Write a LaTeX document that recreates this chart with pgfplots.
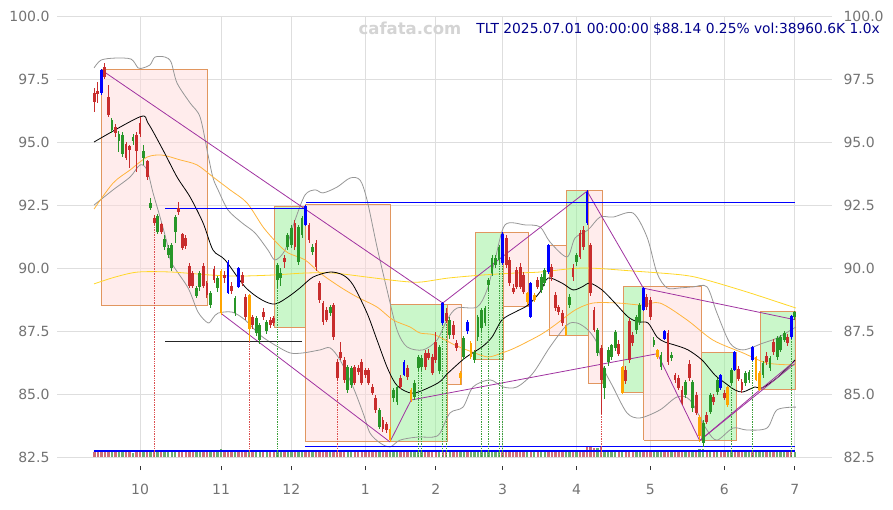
\documentclass[border=0pt]{standalone}
\usepackage{pgfplots}
\pgfplotsset{compat=1.18}
\usepackage{pgfplotstable}
\usepackage{fontspec}
\setmainfont{DejaVu Sans}
\definecolor{cgreen}{RGB}{40,150,40}
\definecolor{cred}{RGB}{200,45,45}
\definecolor{cblue}{RGB}{0,0,255}
\definecolor{corange}{RGB}{255,165,0}
\definecolor{tickgray}{RGB}{115,115,115}
\definecolor{gridgray}{RGB}{222,222,222}
\definecolor{boxedge}{RGB}{225,150,95}
\definecolor{redfill}{RGB}{255,218,218}
\definecolor{greenfill}{RGB}{150,240,150}
\definecolor{bandgray}{RGB}{150,150,150}
\definecolor{maorange}{RGB}{255,180,60}
\definecolor{mayellow}{RGB}{255,215,40}
\definecolor{trend}{RGB}{160,50,160}
\definecolor{titleblue}{RGB}{0,0,139}
\definecolor{wm}{RGB}{212,212,212}
\definecolor{volred}{RGB}{205,110,120}
\definecolor{volgreen}{RGB}{110,170,110}
\definecolor{dotred}{RGB}{220,80,80}
\definecolor{dotgreen}{RGB}{60,160,60}

% candles: x open high low close volume-top
\pgfplotstableread{
x o h l c v
-8 95.48 95.95 95.35 95.87 82.70
-6 95.04 95.45 94.60 95.32 82.68
-5 94.52 95.40 94.40 95.28 82.70
-2 95.04 95.30 94.90 95.20 82.67
1 94.37 94.90 94.10 94.64 82.70
3 92.38 92.78 92.30 92.58 82.72
5 91.43 92.15 91.35 92.06 82.70
7 90.83 91.30 90.70 91.15 82.69
8 90.52 90.90 90.40 90.79 82.70
9 90.00 91.00 89.90 90.90 82.71
10 91.43 92.10 91.00 92.02 82.70
16 88.90 89.30 88.80 89.20 82.68
17 89.25 89.90 89.10 89.80 82.70
20 88.55 89.10 88.40 89.00 82.70
22 89.20 89.70 89.05 89.60 82.72
27 88.20 88.90 88.10 88.80 82.74
33 87.42 88.10 87.30 88.02 82.78
34 87.14 87.80 87.00 87.74 82.72
36 87.50 87.95 87.40 87.85 82.70
39 89.52 90.20 89.20 90.12 82.70
40 89.60 90.00 89.30 89.80 82.69
42 90.83 91.40 90.70 91.31 82.70
43 90.91 91.70 90.80 91.59 82.70
45 90.24 91.70 90.10 91.63 82.71
46 91.31 92.05 91.20 91.98 82.70
49 90.63 90.95 90.50 90.83 82.68
54 88.21 88.55 88.10 88.45 82.70
59 85.16 86.15 85.05 86.07 82.70
60 85.36 86.10 85.25 86.03 82.69
68 83.69 84.45 83.60 84.37 82.72
72 84.84 85.25 84.70 85.16 82.70
73 84.68 85.35 84.55 85.28 82.70
78 84.88 85.55 84.75 85.44 82.69
79 86.03 86.55 85.90 86.47 82.70
80 86.07 86.55 85.95 86.43 82.70
85 85.90 86.95 85.80 86.87 82.71
88 87.34 88.05 87.20 87.94 82.70
92 86.47 87.30 86.35 87.22 82.70
95 86.35 86.75 86.25 86.67 82.68
96 87.26 88.15 87.10 88.06 82.70
97 87.62 88.40 87.50 88.33 82.70
98 87.82 88.50 87.70 88.41 82.70
99 89.33 89.60 89.10 89.52 82.72
100 89.80 90.50 89.70 90.40 82.70
101 90.12 90.50 90.00 90.40 82.69
102 90.32 90.90 90.20 90.83 82.70
114 89.13 89.75 89.00 89.64 82.70
115 89.40 90.00 89.30 89.92 82.70
122 88.53 88.95 88.40 88.85 82.70
124 90.24 90.60 90.10 90.52 82.71
130 86.63 87.60 86.50 87.54 82.86
132 85.24 86.10 84.80 86.03 82.78
133 86.27 86.85 86.10 86.75 82.72
134 86.47 87.00 86.35 86.94 82.70
135 86.83 87.55 86.70 87.45 82.70
141 87.54 88.15 87.40 88.06 82.70
142 87.86 88.60 87.75 88.53 82.70
146 86.95 87.25 86.85 87.14 82.69
148 86.07 86.65 85.95 86.55 82.70
151 86.43 86.65 86.30 86.55 82.70
155 84.96 85.55 84.85 85.48 82.70
157 84.44 85.55 84.30 85.48 82.71
160 83.06 83.95 82.90 83.85 82.80
162 84.29 85.05 84.20 84.96 82.72
164 85.08 85.65 84.95 85.56 82.70
168 85.44 86.05 85.35 85.95 82.70
172 85.44 85.90 85.30 85.83 82.70
173 85.56 85.95 85.45 85.87 82.69
177 85.75 86.30 85.65 86.23 82.70
179 86.03 86.50 85.90 86.43 82.70
181 86.47 87.30 86.35 87.22 82.70
182 86.75 87.35 86.65 87.26 82.71
183 87.14 87.50 87.05 87.42 82.70
186 88.06 88.30 87.95 88.25 82.70
}\upc

\pgfplotstableread{
x o h l c v
-13 96.94 97.14 96.19 96.59 82.70
-12 97.02 97.40 96.55 96.90 82.70
-10 97.98 98.13 97.50 97.58 82.72
-9 96.79 97.26 96.00 96.07 82.71
-7 95.60 95.70 95.20 95.36 82.70
-4 94.92 95.00 94.30 94.37 82.70
-3 94.85 94.90 93.95 94.70 82.69
-1 95.28 95.40 93.80 94.64 82.70
0 95.75 95.99 95.20 95.32 82.70
2 94.25 94.30 93.50 93.61 82.71
4 92.00 92.10 91.70 91.80 82.72
6 91.75 91.80 91.35 91.43 82.70
11 92.38 92.62 92.10 92.22 82.70
12 91.35 91.40 90.70 90.80 82.70
13 91.20 91.30 90.75 90.87 82.69
14 90.10 90.20 89.20 89.30 82.70
15 89.80 89.90 89.20 89.30 82.70
18 90.10 90.20 89.20 89.30 82.70
19 89.40 89.50 88.80 88.93 82.71
21 89.96 90.10 89.40 89.52 82.70
24 89.72 89.90 89.40 89.60 82.72
26 89.30 89.45 88.95 89.10 82.78
29 89.72 89.85 89.30 89.40 82.76
30 88.85 88.95 87.95 88.06 82.72
32 88.05 88.15 87.60 87.74 82.70
35 88.25 88.40 87.95 88.06 82.70
37 87.94 88.05 87.60 87.74 82.70
38 88.00 88.10 87.70 87.80 82.69
41 90.40 90.50 90.00 90.24 82.70
44 91.79 91.90 90.70 90.83 82.70
48 91.71 91.80 91.00 91.11 82.70
50 90.99 91.10 89.90 90.04 82.71
51 89.40 89.50 88.60 88.73 82.70
52 88.61 88.70 87.75 87.86 82.70
53 88.33 88.45 87.85 87.94 82.70
55 88.53 88.60 87.15 87.26 82.72
56 86.27 86.40 85.50 85.63 82.74
57 86.67 87.06 86.35 86.43 82.70
58 86.35 86.45 85.45 85.56 82.70
61 86.07 86.15 85.35 85.44 82.70
62 86.03 86.15 85.75 85.87 82.69
63 86.27 86.40 85.35 85.44 82.70
64 85.95 86.05 85.65 85.75 82.70
65 85.95 86.05 85.35 85.44 82.70
66 85.28 85.40 84.95 85.04 82.71
67 84.84 84.95 84.25 84.37 82.70
69 83.97 84.10 83.50 83.61 82.70
70 83.80 83.90 83.45 83.57 82.70
74 85.63 85.75 85.20 85.28 82.70
76 86.03 86.15 85.55 85.67 82.70
81 86.63 86.75 85.95 86.07 82.70
82 86.63 86.80 86.35 86.43 82.69
83 86.47 86.60 85.75 85.83 82.70
84 87.06 87.45 86.25 86.35 82.70
87 88.20 88.40 87.80 87.90 82.71
89 87.74 87.90 87.20 87.34 82.70
90 87.02 87.15 86.70 86.83 82.70
104 91.19 91.30 90.00 90.12 82.70
105 90.32 90.45 89.30 89.40 82.70
106 89.21 89.35 88.95 89.05 82.69
107 89.92 90.05 89.15 89.25 82.70
108 90.04 90.20 89.15 89.25 82.70
109 89.72 89.85 88.95 89.05 82.70
113 89.52 89.65 89.15 89.25 82.70
117 90.04 90.15 89.50 89.64 82.70
118 88.93 89.05 88.30 88.41 82.71
119 88.45 88.55 88.15 88.25 82.70
120 88.21 88.35 87.70 87.82 82.70
123 90.00 90.15 89.50 89.64 82.70
125 91.39 91.50 90.35 90.44 82.72
126 91.51 91.65 90.70 90.83 82.74
128 90.91 91.00 88.90 89.01 82.90
129 88.33 88.45 87.45 87.54 82.84
131 86.83 86.95 84.20 85.56 82.88
136 87.00 87.15 86.50 86.60 82.70
138 85.95 86.10 85.40 85.52 82.70
139 87.90 88.00 86.25 86.35 82.72
140 87.34 87.45 86.90 87.02 82.70
144 88.85 88.95 88.35 88.45 82.70
145 88.73 88.85 87.95 88.06 82.70
150 87.42 87.55 86.15 86.27 82.71
152 85.75 85.85 85.45 85.56 82.70
153 85.63 85.75 85.15 85.24 82.70
154 85.16 85.30 84.55 84.64 82.70
156 86.20 86.35 85.50 85.63 82.70
158 84.96 85.10 84.15 84.25 82.72
161 84.17 84.30 83.80 83.89 82.72
163 84.88 85.00 84.55 84.68 82.70
166 85.04 85.15 84.75 84.84 82.70
170 86.00 86.10 85.50 85.60 82.70
171 85.48 85.60 85.05 85.16 82.70
178 86.51 86.65 86.15 86.27 82.70
180 87.06 87.20 86.55 86.67 82.70
184 87.26 87.40 86.90 87.02 82.70
}\downc

\pgfplotstableread{
x o h l c v
-11 96.94 97.90 96.85 97.86 82.72
25 89.00 90.30 88.95 90.24 82.74
28 89.25 90.05 89.20 90.00 82.74
47 91.71 92.50 91.65 92.46 82.71
75 85.75 86.35 85.70 86.27 82.70
86 87.82 88.65 87.75 88.61 82.72
93 87.50 87.95 87.40 87.86 82.70
103 90.20 91.42 90.10 91.35 82.72
111 88.06 89.45 88.00 89.40 82.71
116 89.84 90.95 89.75 90.91 82.70
127 91.80 93.10 91.70 93.00 82.92
143 88.35 89.25 88.30 89.20 82.70
149 87.20 87.55 87.15 87.50 82.70
165 85.24 85.80 85.15 85.75 82.70
169 85.95 86.70 85.90 86.67 82.70
174 86.35 86.90 86.30 86.85 82.70
185 87.26 88.15 87.20 88.10 82.71
}\bluec

\pgfplotstableread{
x o h l c v
23 89.90 89.95 88.15 88.20 82.80
31 88.93 88.95 87.10 87.60 82.78
71 83.61 83.70 83.10 83.17 82.74
77 85.16 85.25 84.70 84.76 82.70
91 85.83 85.90 85.36 85.63 82.70
94 87.02 87.10 86.40 86.47 82.70
110 89.00 89.05 88.55 88.65 82.70
112 88.93 89.00 88.65 88.73 82.70
121 87.66 87.75 87.30 87.34 82.71
137 86.07 86.10 85.00 85.04 82.72
147 86.75 86.80 86.40 86.47 82.70
159 84.10 84.15 83.10 83.33 82.80
167 85.28 85.30 84.50 84.56 82.70
175 86.47 86.50 85.50 85.56 82.70
176 85.83 85.90 85.10 85.16 82.70
}\orangec

% moving averages and bands
\pgfplotstableread{
x y
-13.07 95.00
0 96.00
2.27 95.75
6.53 94.68
10.51 93.61
14.2 92.82
17.9 91.79
20.74 90.71
24.15 90.32
29.83 89.25
34.66 88.73
38.35 88.57
42.05 88.85
45.45 89.21
49.15 89.64
53.98 89.84
57.67 89.72
60.51 89.33
64.49 88.21
67.33 87.14
70.17 86.07
72.44 85.44
74.72 85.16
78.13 85.04
84.66 85.44
87.5 85.83
92.33 86.43
97.16 86.87
100 87.26
102.84 87.94
106.53 88.25
110.23 88.53
113.64 89.05
115.91 89.60
119.89 89.40
123.01 89.13
125.57 89.25
127.84 89.40
131.25 89.13
134.94 88.61
138.64 88.06
141.48 87.86
144.32 87.82
146.88 87.26
149.15 87.06
151.99 86.94
155.68 86.75
159.66 86.35
163.35 85.75
166.19 85.44
169.03 85.16
171.31 85.08
174.72 85.28
176.70 85.24
181.25 85.67
186.08 86.35
}\maA

\pgfplotstableread{
x y
-13.07 92.34
-7.67 93.37
-2.84 93.89
1.99 94.40
6.25 94.48
11.36 94.29
16.19 94.09
20.74 93.61
25.57 93.10
30.40 92.58
34.94 91.63
38.92 90.99
42.05 90.60
46.88 90.32
51.14 89.80
56.82 89.25
61.65 88.85
67.33 88.45
71.88 87.94
76.70 87.66
79.55 87.42
83.81 87.34
89.49 86.94
94.32 86.67
98.86 86.47
102.84 86.63
106.53 86.83
113.64 87.34
117.9 87.74
123.58 88.33
128.69 88.61
135.80 88.61
142.61 88.53
147.73 88.61
155.40 87.94
162.78 87.14
171.31 86.63
178.13 86.23
186.36 86.15
}\maB

\pgfplotstableread{
x y
-13.07 89.37
-7.10 89.64
-0.57 89.84
8.81 89.84
20.17 89.72
27.84 89.68
37.5 89.72
46.88 89.80
54.83 89.80
64.49 89.64
73.86 89.48
79.55 89.44
87.5 89.60
97.16 89.72
106.53 89.80
113.64 89.84
125.85 90.00
140.06 89.88
154.26 89.72
161.08 89.52
173.30 89.01
186.36 88.41
}\maC

\pgfplotstableread{
x y
-13.07 97.94
-11.08 98.25
-7.10 98.33
-2.56 98.29
-0.57 97.94
0.85 97.94
2.84 98.06
4.26 98.37
7.10 98.37
8.81 98.17
10.51 97.34
14.2 96.55
17.05 95.99
19.32 94.48
20.74 93.57
22.16 93.10
25.0 92.30
28.98 91.79
32.67 91.39
36.36 90.71
38.35 90.32
41.19 90.71
44.03 91.90
46.88 92.90
49.72 93.10
51.99 92.98
55.97 93.21
59.66 93.57
62.5 93.49
64.49 92.70
67.33 90.83
70.17 89.13
73.01 87.54
75.85 86.87
80.40 86.75
84.38 87.14
87.22 87.94
90.06 88.41
95.74 88.45
98.58 89.13
100.85 90.32
103.69 91.71
109.38 91.71
113.64 91.63
116.48 91.03
121.31 90.44
123.58 91.19
127.27 91.51
130.68 92.02
134.38 92.02
140.06 92.18
144.03 91.23
146.88 89.80
149.72 89.21
153.41 89.21
157.1 89.25
161.08 89.25
163.92 88.21
167.61 87.02
171.31 86.75
176.99 87.02
180.97 87.22
186.36 87.66
}\bbU

\pgfplotstableread{
x y
-13.07 92.50
-7.67 93.10
-2.84 93.61
0 94.09
1.99 93.89
3.69 92.98
5.68 92.02
7.67 90.99
8.81 90.24
13.64 89.21
16.48 88.25
19.32 87.82
20.74 88.02
22.16 88.21
26.14 88.25
29.83 87.94
34.09 87.34
38.35 86.94
42.61 86.63
46.31 86.63
51.14 86.75
53.98 86.83
56.82 86.35
60.51 85.28
63.35 84.25
65.34 83.45
68.18 83.06
71.02 82.90
73.86 83.17
78.69 83.29
83.24 83.29
85.23 83.45
88.07 84.25
91.76 84.48
94.60 85.28
99.43 85.56
103.13 85.28
107.1 85.28
111.65 85.83
116.48 86.87
121.31 87.74
124.15 87.82
127.27 87.54
129.83 87.02
131.53 86.07
134.38 85.28
138.35 84.25
142.05 84.05
147.73 84.37
152.56 84.88
156.25 84.76
161.08 83.57
163.92 83.17
168.47 83.65
172.44 83.57
178.13 83.65
180.97 84.37
186.36 84.48
}\bbL

\newcommand{\candles}[2]{%
  \addplot[draw=none, mark=none, forget plot,
    error bars/.cd, y dir=both, y explicit, error mark=none,
    error bar style={draw=#2, line width=0.9pt, solid}]
    table[x=x, y expr=(\thisrow{h}+\thisrow{l})/2, y error expr=(\thisrow{h}-\thisrow{l})/2] {#1};
  \addplot[draw=none, mark=none, forget plot,
    error bars/.cd, y dir=both, y explicit, error mark=none,
    error bar style={draw=#2, line width=2.8pt, solid}]
    table[x=x, y expr=(\thisrow{o}+\thisrow{c})/2, y error expr=abs(\thisrow{o}-\thisrow{c})/2] {#1};
}
\newcommand{\rbox}[5]{%
  \addplot[fill=#5, fill opacity=0.5, draw=boxedge, line width=1pt, forget plot]
    coordinates {(#1,#3) (#2,#3) (#2,#4) (#1,#4) (#1,#3)};
}

\begin{document}
\begin{tikzpicture}
\useasboundingbox (0,0) rectangle (893pt,509pt);
\begin{axis}[
  at={(57pt,52pt)}, anchor=south west,
  width=775pt, height=441pt, scale only axis,
  xmin=-23.6, xmax=196.6, ymin=82.5, ymax=100,
  axis line style={draw=none},
  grid=major, major grid style={draw=gridgray, line width=0.8pt},
  xtick={0,23,43,64,84,103,124,145,166,186},
  xticklabels={10,11,12,1,2,3,4,5,6,7},
  ytick={82.5,85,87.5,90,92.5,95,97.5,100},
  xtick pos=lower, ytick pos=left,
  tick align=outside, major tick length=4pt,
  xtick style={draw=black!80, line width=0.8pt, yshift=-9pt},
  ytick style={draw=none},
  ticklabel style={font=\fontsize{14}{16}\selectfont, text=tickgray},
  xticklabel style={yshift=-20pt},
  /pgf/number format/assume math mode=true,
  yticklabel style={/pgf/number format/.cd, fixed, fixed zerofill, precision=1},
]
% volume
\addplot[ycomb, draw=volred, line width=2.4pt, forget plot] table[x=x, y=v] {\downc};
\addplot[ycomb, draw=volgreen, line width=2.4pt, forget plot] table[x=x, y=v] {\upc};
\addplot[ycomb, draw=volred, line width=2.4pt, forget plot] table[x=x, y=v] {\bluec};
\addplot[ycomb, draw=volgreen, line width=2.4pt, forget plot] table[x=x, y=v] {\orangec};
% boxes
\rbox{-11.08}{19.03}{88.53}{97.86}{redfill}
\rbox{38.07}{46.88}{87.62}{92.46}{greenfill}
\rbox{46.88}{71.02}{83.13}{92.50}{redfill}
\rbox{71.02}{87.22}{83.13}{88.57}{greenfill}
\rbox{87.22}{91.19}{85.36}{88.57}{redfill}
\rbox{95.17}{103.13}{86.35}{91.39}{greenfill}
\rbox{103.13}{110.23}{88.49}{91.39}{redfill}
\rbox{116.19}{121.02}{87.34}{90.91}{redfill}
\rbox{121.02}{127.27}{87.34}{93.06}{greenfill}
\rbox{127.27}{131.25}{85.40}{93.06}{redfill}
\rbox{137.22}{143.18}{85.04}{89.25}{greenfill}
\rbox{143.18}{159.38}{83.17}{89.25}{redfill}
\rbox{159.38}{169.60}{83.17}{86.63}{greenfill}
\rbox{176.14}{186.36}{85.16}{88.29}{greenfill}
% bands and averages
\addplot[draw=bandgray, line width=0.8pt, smooth, forget plot] table {\bbU};
\addplot[draw=bandgray, line width=0.8pt, smooth, forget plot] table {\bbL};
\addplot[draw=mayellow, line width=0.8pt, smooth, forget plot] table {\maC};
\addplot[draw=maorange, line width=0.8pt, smooth, forget plot] table {\maB};
\addplot[draw=black, line width=0.8pt, smooth, forget plot] table {\maA};
% trend lines
\addplot[draw=trend, line width=0.8pt, forget plot] coordinates {(-11,97.86) (86,88.61) (127,93.05) (143,89.2) (186,87.95)};
\addplot[draw=trend, line width=0.8pt, forget plot] coordinates {(23,88.2) (71,83.1) (77,84.76) (147,86.6) (159,83.15) (176,85.15) (186,86.3)};
\addplot[draw=trend, line width=0.8pt, forget plot] coordinates {(159,83.15) (186,86.2)};
% horizontal levels
\addplot[draw=cblue, line width=0.8pt, forget plot] coordinates {(7.1,92.38) (47.2,92.38)};
\addplot[draw=cblue, line width=0.8pt, forget plot] coordinates {(47.2,92.6) (186.1,92.6)};
\addplot[draw=black!85, line width=0.7pt, forget plot] coordinates {(7.1,87.1) (46.0,87.1)};
\addplot[draw=cblue, line width=0.8pt, forget plot] coordinates {(47.0,82.93) (186.1,82.93)};
\addplot[draw=cblue, line width=0.8pt, forget plot] coordinates {(-13.2,82.78) (186.1,82.78)};
\addplot[draw=cblue, line width=0.8pt, forget plot] coordinates {(-13.2,82.72) (186.1,82.72)};
% dotted markers
\addplot[ycomb, draw=dotred, densely dotted, line width=0.7pt, forget plot] coordinates {(4,91.7) (31,87.1) (56,85.5) (131,84.2)};
\addplot[ycomb, draw=dotgreen, densely dotted, line width=0.7pt, forget plot] coordinates {(39,89.2) (79,85.9) (80,85.95) (86,87.75) (87,87.8) (97,87.5) (99,89.1) (102,90.2) (103,90.1) (168,85.35) (174,86.3) (185,87.2)};
% candles
\candles{\upc}{cgreen}
\candles{\downc}{cred}
\candles{\orangec}{corange}
\candles{\bluec}{cblue}
\end{axis}
\begin{axis}[
  at={(57pt,52pt)}, anchor=south west,
  width=775pt, height=441pt, scale only axis,
  xmin=0, xmax=1, ymin=82.5, ymax=100,
  hide x axis, axis y line*=right, axis line style={draw=none},
  ytick={82.5,85,87.5,90,92.5,95,97.5,100},
  tick align=outside, major tick length=4pt,
  ytick style={draw=none},
  yticklabel style={font=\fontsize{14}{16}\selectfont, text=tickgray, xshift=4pt,
    /pgf/number format/.cd, fixed, fixed zerofill, precision=1},
  /pgf/number format/assume math mode=true,
]
\addplot[draw=none, forget plot] coordinates {(0,90) (1,90)};
\end{axis}
\node[anchor=east, inner sep=0pt, text=titleblue, font=\fontsize{13.8}{16}\selectfont] at (880pt,480pt) {TLT 2025.07.01 00:00:00 \$88.14 0.25\% vol:38960.6K 1.0x};
\node[inner sep=0pt, text=wm, font=\bfseries\fontsize{16.5}{18}\selectfont] at (410pt,481pt) {cafata.com};
\end{tikzpicture}
\end{document}
